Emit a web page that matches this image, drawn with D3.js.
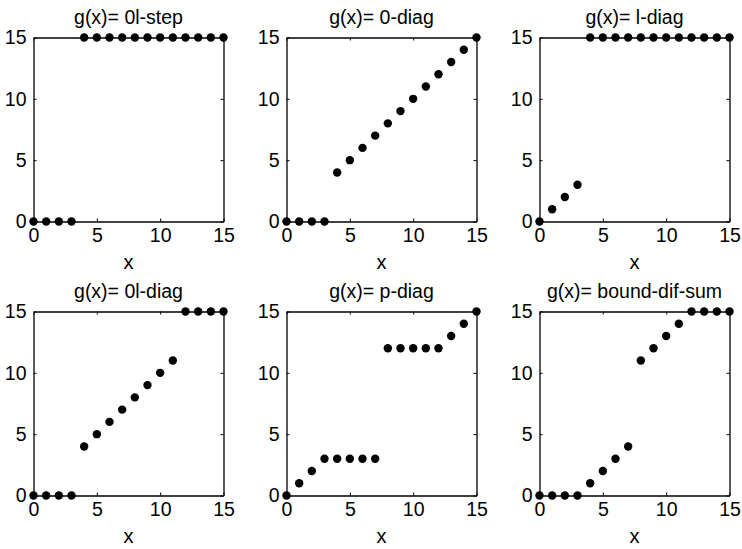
<!DOCTYPE html>
<html>
<head>
<meta charset="utf-8">
<script src="https://cdn.jsdelivr.net/npm/d3@7"></script>
<style>
  body { margin: 0; background: #fff; }
  svg text { font-family: "Liberation Sans", Arial, Helvetica, sans-serif; fill: #000; }
</style>
</head>
<body>
<svg></svg>
<script>
let width = 742
let height = 549

let xs = d3.range(0, 16)
let titles = ['g(x)= 0l-step', 'g(x)= 0-diag', 'g(x)= l-diag',
              'g(x)= 0l-diag', 'g(x)= p-diag', 'g(x)= bound-dif-sum']

let step0l = [0, 0, 0, 0, 15, 15, 15, 15, 15, 15, 15, 15, 15, 15, 15, 15]
let diag0 = [0, 0, 0, 0, 4, 5, 6, 7, 8, 9, 10, 11, 12, 13, 14, 15]
let diagl = [0, 1, 2, 3, 15, 15, 15, 15, 15, 15, 15, 15, 15, 15, 15, 15]
let diag0l = [0, 0, 0, 0, 4, 5, 6, 7, 8, 9, 10, 11, 15, 15, 15, 15]
let diagp = [0, 1, 2, 3, 3, 3, 3, 3, 12, 12, 12, 12, 12, 13, 14, 15]
let boundDifSum = [0, 0, 0, 0, 1, 2, 3, 4, 11, 12, 13, 14, 15, 15, 15, 15]

let seriesList = [step0l, diag0, diagl, diag0l, diagp, boundDifSum]
let tickVals = [0, 5, 10, 15]

let colLeft = [33.5, 286.5, 539.5]
let rowTop = [37.5, 311.5]
let boxW = 190
let boxH = 184

let svg = d3.select('svg')
svg.attr('width', width).attr('height', height)

let drawPanel = (i) => {
    let left = colLeft[i % 3]
    let top = rowTop[Math.floor(i / 3)]
    let g = svg.append('g').attr('transform', 'translate(' + left + ',' + top + ')')

    let xScale = d3.scaleLinear().domain([0, 15]).range([0, boxW])
    let yScale = d3.scaleLinear().domain([0, 15]).range([boxH, 0])

    // box with inward ticks on every side
    g.append('g').attr('transform', 'translate(0,' + boxH + ')')
        .call(d3.axisBottom(xScale).tickValues(tickVals).tickSizeInner(-3).tickSizeOuter(0).tickPadding(7))
    g.append('g')
        .call(d3.axisTop(xScale).tickValues(tickVals).tickSizeInner(-3).tickSizeOuter(0).tickFormat(''))
    g.append('g')
        .call(d3.axisLeft(yScale).tickValues(tickVals).tickSizeInner(-3).tickSizeOuter(0).tickPadding(7))
    g.append('g').attr('transform', 'translate(' + boxW + ',0)')
        .call(d3.axisRight(yScale).tickValues(tickVals).tickSizeInner(-3).tickSizeOuter(0).tickFormat(''))

    g.selectAll('.domain').attr('stroke', '#000').attr('stroke-width', 1.3)
    g.selectAll('.tick line').attr('stroke', '#000')
    g.selectAll('.tick text').style('font-size', '19.5px').attr('fill', '#000')

    g.selectAll('circle')
        .data(seriesList[i])
        .enter()
        .append('circle')
        .attr('cx', (d, j) => xScale(xs[j]))
        .attr('cy', (d) => yScale(d))
        .attr('r', 4.2)
        .attr('fill', '#000')

    g.append('text')
        .attr('x', boxW / 2)
        .attr('y', -14)
        .attr('text-anchor', 'middle')
        .style('font-size', '19.5px')
        .text(titles[i])

    g.append('text')
        .attr('x', boxW / 2)
        .attr('y', boxH + 47)
        .attr('text-anchor', 'middle')
        .style('font-size', '20px')
        .text('x')
}

for (let i = 0; i < 6; i++) {
    drawPanel(i)
}
</script>
</body>
</html>
